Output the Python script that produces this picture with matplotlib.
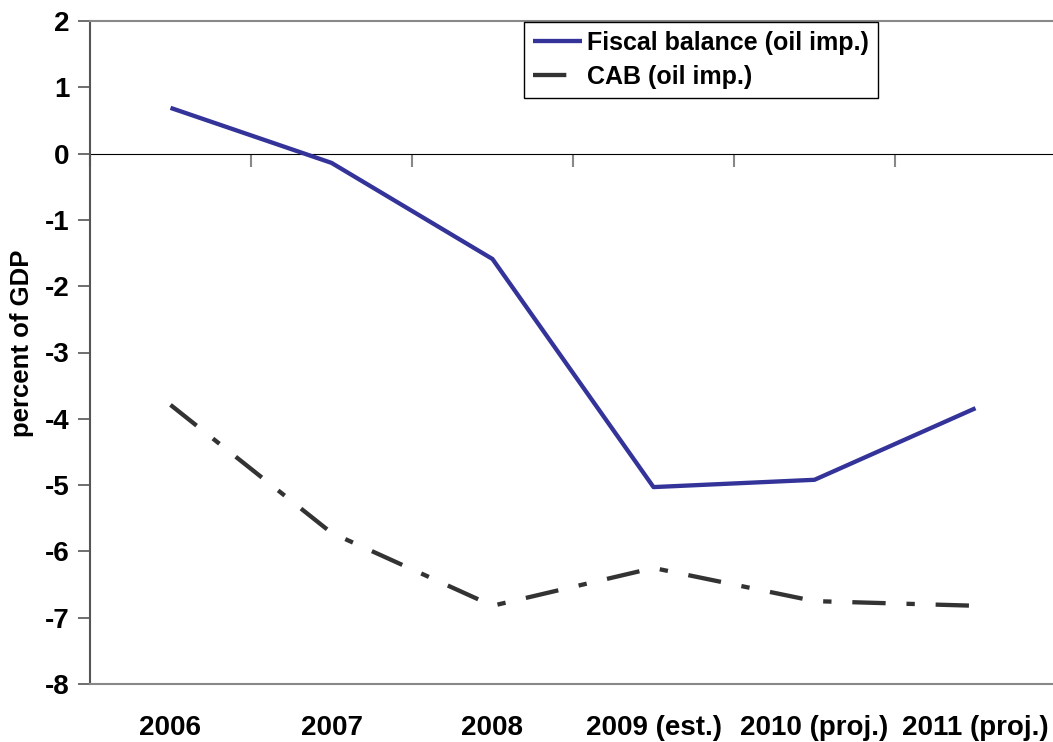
import matplotlib
matplotlib.use("Agg")
import matplotlib.pyplot as plt
import numpy as np

categories = ["2006", "2007", "2008", "2009 (est.)", "2010 (proj.)", "2011 (proj.)"]
fiscal_balance = [0.69, -0.14, -1.59, -5.03, -4.92, -3.84]
cab = [-3.79, -5.72, -6.82, -6.25, -6.75, -6.82]
yticks = list(range(-8, 3))

plt.rcParams["font.family"] = ["Liberation Sans", "DejaVu Sans"]
plt.rcParams["font.weight"] = "bold"
plt.rcParams["lines.scale_dashes"] = False

W, H = 1053, 742
fig = plt.figure(figsize=(W / 100, H / 100), dpi=100)
ax = fig.add_axes([90 / W, 58 / H, (1056 - 90) / W, (684 - 21) / H])

x = np.arange(len(categories))
ax.plot(x, fiscal_balance, color="#333399", lw=3.1, solid_capstyle="butt",
        label="Fiscal balance (oil imp.)", zorder=3)
ax.plot(x, cab, color="#333333", lw=3.1, dashes=(24, 15, 6, 15),
        dash_capstyle="butt", label="CAB (oil imp.)", zorder=3)

ax.set_xlim(-0.5, len(categories) - 0.5)
ax.set_ylim(-8, 2)
ax.set_yticks(yticks)
ax.set_yticklabels([str(t) for t in yticks], fontsize=20, fontweight="bold")
ax.set_xticks(x)
ax.set_xticklabels(categories, fontsize=20, fontweight="bold")
ax.tick_params(axis="x", length=0, pad=22)
ax.tick_params(axis="y", length=9, width=1.2, color="#555555", pad=6)

ax.spines["right"].set_visible(False)
ax.spines["top"].set_color("#888888")
ax.spines["top"].set_linewidth(1.5)
ax.spines["bottom"].set_color("#888888")
ax.spines["bottom"].set_linewidth(1.5)
ax.spines["left"].set_color("#555555")
ax.spines["left"].set_linewidth(1.5)

# category axis crossing at zero, with tick marks between categories
zero_frac = (0 - (-8)) / (2 - (-8))
sec = ax.secondary_xaxis(zero_frac)
sec.set_xticks(np.arange(len(categories) + 1) - 0.5)
sec.set_xticklabels([])
sec.tick_params(axis="x", length=9, width=1.5, color="#888888", direction="in")
sec.spines["bottom"].set_color("black")
sec.spines["bottom"].set_linewidth(1.2)

ax.set_ylabel("percent of GDP", fontsize=18.5, fontweight="bold")
ax.yaxis.set_label_coords(-0.058, 0.514)

leg = ax.legend(loc="upper left", bbox_to_anchor=(524 / W, 1 - 22 / H),
                bbox_transform=fig.transFigure, borderaxespad=0,
                frameon=True, fancybox=False, handlelength=1.95,
                handletextpad=0.22, labelspacing=0.4, borderpad=0.36,
                prop={"size": 18, "weight": "bold"})
leg.get_frame().set_edgecolor("black")
leg.get_frame().set_linewidth(1.0)
leg.get_frame().set_alpha(1)

fig.savefig("out.png", dpi=100, facecolor="white")
